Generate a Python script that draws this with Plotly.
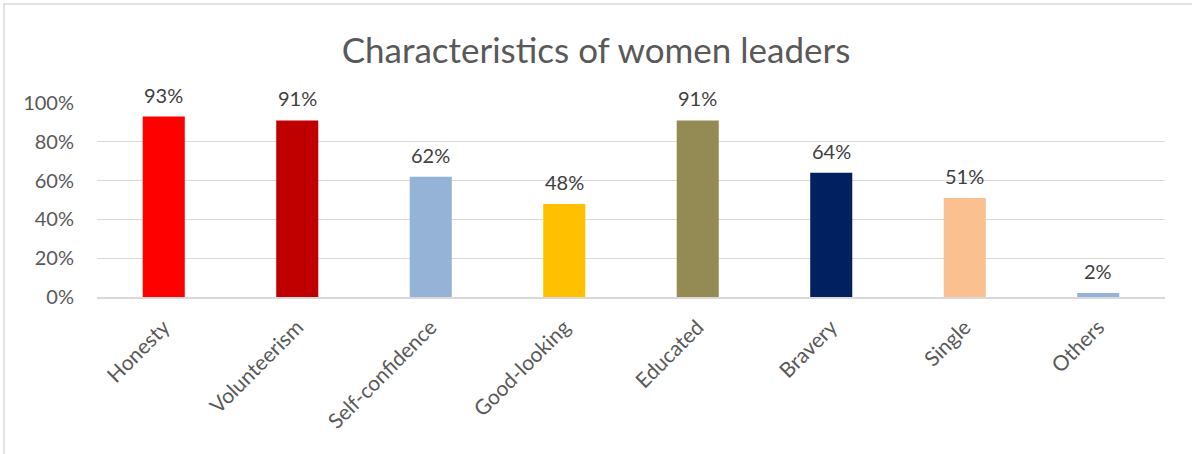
import plotly.graph_objects as go

categories = ["Honesty", "Volunteerism", "Self-confidence", "Good-looking",
              "Educated", "Bravery", "Single", "Others"]
values = [0.93, 0.91, 0.62, 0.48, 0.91, 0.64, 0.51, 0.02]
labels = ["93%", "91%", "62%", "48%", "91%", "64%", "51%", "2%"]
colors = ["#FF0000", "#C00000", "#95B3D7", "#FFC000",
          "#948A54", "#002060", "#FAC090", "#95B3D7"]
y_ticks = [0, 0.2, 0.4, 0.6, 0.8, 1.0]
y_tick_text = ["0%", "20%", "40%", "60%", "80%", "100%"]

FONT = "Lato, Calibri, Carlito, sans-serif"

fig = go.Figure(go.Bar(
    x=categories, y=values, marker=dict(color=colors, line=dict(width=0)),
    width=0.315, hoverinfo="x+y",
))

for cat, val, lab in zip(categories, values, labels):
    fig.add_annotation(x=cat, y=val, text=lab, showarrow=False,
                       yanchor="bottom", yshift=8,
                       font=dict(size=20, color="#404040", family=FONT))

W, H = 1192, 454
ml, mr, mt, mb = 97, 27, 103, 157

fig.update_layout(
    width=W, height=H,
    margin=dict(l=ml, r=mr, t=mt, b=mb, autoexpand=False),
    paper_bgcolor="white", plot_bgcolor="white",
    title=dict(text="Characteristics of women leaders", x=0.5, xanchor="center",
               y=1 - 51 / H, yanchor="middle",
               font=dict(size=35, color="#595959", family=FONT)),
    font=dict(family=FONT, color="#595959"),
    showlegend=False,
    yaxis=dict(range=[0, 1.0], tickvals=y_ticks, ticktext=y_tick_text,
               showgrid=True, gridcolor="#D9D9D9", gridwidth=1,
               zeroline=False, showline=False, ticks="",
               tickfont=dict(size=20, color="#595959"), ticklabelstandoff=22),
    xaxis=dict(tickangle=-45, showline=True, linecolor="#D9D9D9", linewidth=1.5,
               ticks="", tickfont=dict(size=21, color="#595959"),
               ticklabelstandoff=8, showgrid=False),
)

# chart border (top and left visible in the crop)
pw = W - ml - mr
ph = H - mt - mb
fig.add_shape(type="rect", xref="paper", yref="paper",
              x0=(4 - ml) / pw, x1=(W + 10 - ml) / pw,
              y0=(H - mb - (H + 10)) / ph, y1=(H - mb - 4) / ph,
              line=dict(color="#D9D9D9", width=1.5), layer="below")

fig.write_html("out.html", config={"displayModeBar": False},
               post_script="document.body.style.margin='0';document.body.style.overflow='hidden';")
